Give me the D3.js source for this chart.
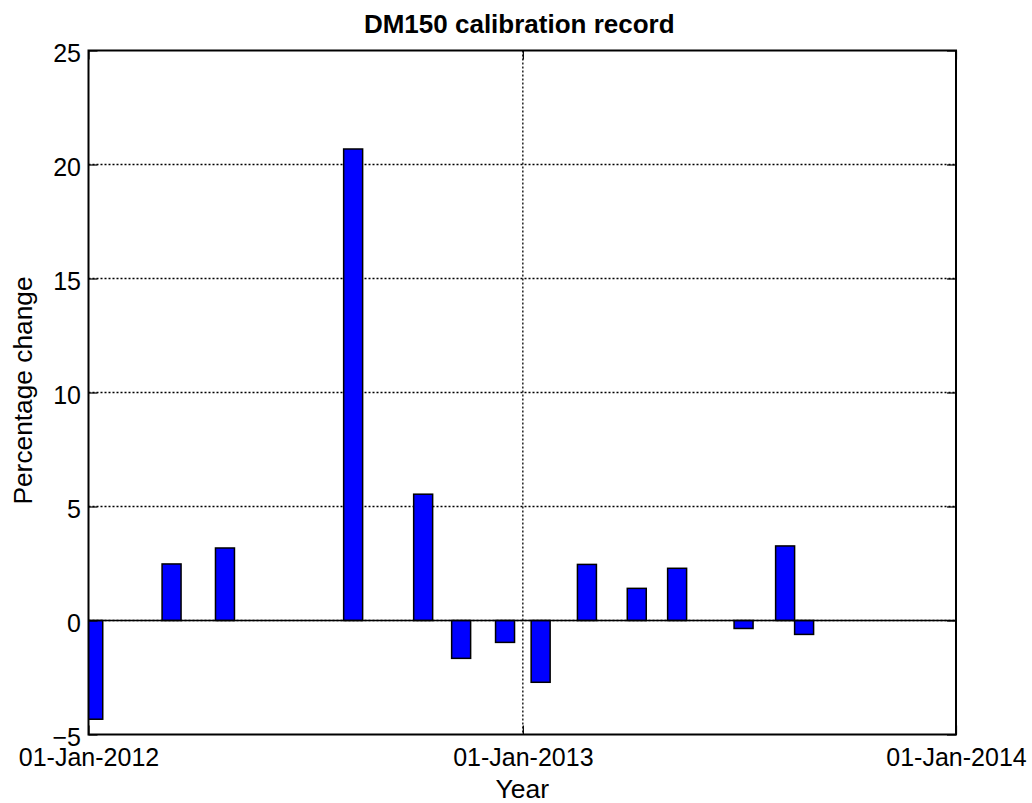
<!DOCTYPE html>
<html>
<head>
<meta charset="utf-8">
<script src="https://cdn.jsdelivr.net/npm/d3@7"></script>
<style>
  html, body { margin: 0; padding: 0; background: #fff; }
  svg { display: block; font-family: "Liberation Sans", Arial, Helvetica, sans-serif; }
</style>
</head>
<body>
<svg id="chart" width="1032" height="803"></svg>
<script>
// Calibration dates and the percentage change recorded at each one
const dates = [
  "2012-01-05", "2012-03-11", "2012-04-25", "2012-08-11", "2012-10-09",
  "2012-11-10", "2012-12-17", "2013-01-16", "2013-02-24", "2013-04-07",
  "2013-05-11", "2013-07-06", "2013-08-10", "2013-08-26"
];
const changes = [
  -4.33, 2.48, 3.18, 20.68, 5.54,
  -1.66, -0.96, -2.71, 2.46, 1.41,
  2.29, -0.35, 3.27, -0.61
];
const yTicks = [-5, 0, 5, 10, 15, 20, 25];
const xTicks = ["2012-01-01", "2013-01-01", "2014-01-01"];
const xDomain = ["2012-01-01", "2014-01-01"];
const yDomain = [-5, 25];
const barDays = 16;

const parse = d3.utcParse("%Y-%m-%d");
const fmt = d3.utcFormat("%d-%b-%Y");

const svg = d3.select("#chart");
const box = { left: 88.5, right: 956, top: 50.5, bottom: 734.5 };

const x = d3.scaleUtc().domain(xDomain.map(parse)).range([box.left, box.right]);
const y = d3.scaleLinear().domain(yDomain).range([box.bottom, box.top]);

// clip region for the plotting box
svg.append("defs").append("clipPath").attr("id", "plotclip")
  .append("rect").attr("x", box.left).attr("y", box.top)
  .attr("width", box.right - box.left).attr("height", box.bottom - box.top);

// dotted grid
const grid = svg.append("g").attr("stroke", "#000").attr("stroke-width", 1.3)
  .attr("stroke-dasharray", "2,2");
grid.selectAll("line.gy").data(yTicks.slice(1, -1)).join("line")
  .attr("x1", box.left).attr("x2", box.right)
  .attr("y1", d => y(d)).attr("y2", d => y(d));
grid.selectAll("line.gx").data(xTicks.slice(1, -1)).join("line")
  .attr("y1", box.top).attr("y2", box.bottom)
  .attr("x1", d => x(parse(d))).attr("x2", d => x(parse(d)));

// bars
const data = dates.map((d, i) => ({ date: parse(d), value: changes[i] }));
const halfMs = barDays / 2 * 864e5;
svg.append("g").attr("clip-path", "url(#plotclip)")
  .selectAll("rect").data(data).join("rect")
  .attr("x", d => x(new Date(+d.date - halfMs)))
  .attr("width", d => x(new Date(+d.date + halfMs)) - x(new Date(+d.date - halfMs)))
  .attr("y", d => y(Math.max(0, d.value)))
  .attr("height", d => Math.abs(y(d.value) - y(0)))
  .attr("fill", "#0000ff")
  .attr("stroke", "#000")
  .attr("stroke-width", 1.5);

// bar baseline
svg.append("line")
  .attr("x1", box.left).attr("x2", box.right)
  .attr("y1", y(0)).attr("y2", y(0))
  .attr("stroke", "#000").attr("stroke-width", 1.5);

// axes (ticks pointing inward, mirrored on the opposite sides)
const tickLen = 9;
const yAxis = d3.axisLeft(y).tickValues(yTicks).tickSize(-tickLen).tickPadding(7.5);
const yAxisR = d3.axisRight(y).tickValues(yTicks).tickSize(-tickLen).tickFormat("");
const xAxis = d3.axisBottom(x).tickValues(xTicks.map(parse)).tickSize(-tickLen)
  .tickPadding(14).tickFormat(fmt);
const xAxisT = d3.axisTop(x).tickValues(xTicks.map(parse)).tickSize(-tickLen).tickFormat("");

function style(g) {
  g.select(".domain").remove();
  g.selectAll(".tick line").attr("stroke", "#000").attr("stroke-width", 1.2);
  g.selectAll(".tick text").attr("fill", "#000")
    .style("font-size", "25px").style("font-family", "Liberation Sans, Arial, sans-serif");
}
svg.append("g").attr("transform", `translate(${box.left},0)`).call(yAxis).call(style)
  .selectAll(".tick text").attr("dy", "0.43em");
svg.append("g").attr("transform", `translate(${box.right},0)`).call(yAxisR).call(style);
svg.append("g").attr("transform", `translate(0,${box.bottom})`).call(xAxis).call(style);
svg.append("g").attr("transform", `translate(0,${box.top})`).call(xAxisT).call(style);

// box
svg.append("rect")
  .attr("x", box.left).attr("y", box.top)
  .attr("width", box.right - box.left).attr("height", box.bottom - box.top)
  .attr("fill", "none").attr("stroke", "#000").attr("stroke-width", 2);

// title and axis labels
svg.append("text")
  .attr("x", (box.left + box.right) / 2 - 3).attr("y", 33)
  .attr("text-anchor", "middle")
  .style("font-size", "26px").style("font-weight", "bold")
  .text("DM150 calibration record");

svg.append("text")
  .attr("x", (box.left + box.right) / 2).attr("y", 798)
  .attr("text-anchor", "middle")
  .style("font-size", "26.5px")
  .text("Year");

svg.append("text")
  .attr("transform", `translate(32,${(box.top + box.bottom) / 2 - 2}) rotate(-90)`)
  .attr("text-anchor", "middle")
  .style("font-size", "26.3px")
  .text("Percentage change");
</script>
</body>
</html>
